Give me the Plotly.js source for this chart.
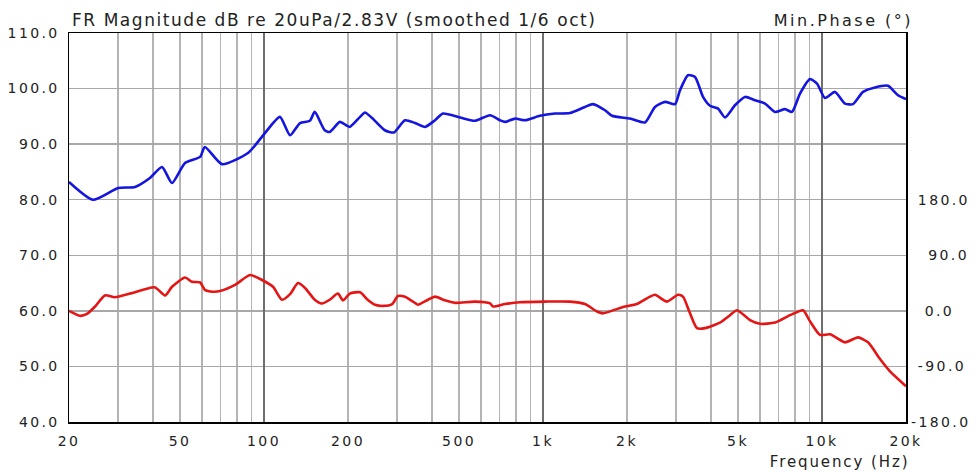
<!DOCTYPE html>
<html>
<head>
<meta charset="utf-8">
<script src="https://cdn.plot.ly/plotly-3.0.1.min.js"></script>
<style>
html,body{margin:0;padding:0;background:#fff;}
#chart{width:976px;height:472px;}
#chart .xtick text, #chart .ytick text, #chart .y2tick text{letter-spacing:2.4px;}
#chart text.gtitle{letter-spacing:1.55px;}
#chart g.annotation[data-index="0"] text{letter-spacing:2.5px;}
#chart g.annotation[data-index="1"] text{letter-spacing:1.9px;}
</style>
</head>
<body>
<div id="chart"></div>
<script>
// Magnitude (dB re 20uPa/2.83V), frequency in Hz
const magFreq = [20,24.4,30.0,34.5,39.0,43.1,46.8,52.1,59.0,61.4,70.7,87.6,100.8,114,124,134.6,146,152,165,172,187,197,203,221,230,244,271,292,320,348,378,410,438,504,570,646,701,731,794,862,975,1104,1249,1414,1510,1668,1767,2050,2320,2520,2737,2972,3097,3308,3506,3746,3968,4240,4491,4876,5296,5752,6247,6784,7368,7806,8339,9057,9596,10248,11131,12088,12913,14026,15488,17238,18722,20000];
const magDB = [83.2,80.0,82.1,82.3,83.9,85.9,83.0,86.6,87.7,89.5,86.4,88.4,92.0,94.9,91.6,93.8,94.2,95.8,92.5,92.2,94.0,93.4,93.1,94.9,95.7,94.7,92.5,92.1,94.3,93.8,93.1,94.3,95.5,94.8,94.2,95.2,94.3,94.0,94.6,94.3,95.1,95.5,95.6,96.7,97.2,96.1,95.1,94.6,93.9,96.7,97.6,97.2,99.7,102.4,102.1,98.5,96.9,96.4,94.8,97.0,98.5,97.9,97.3,95.8,96.3,95.8,99.1,101.7,100.9,98.3,99.4,97.3,97.2,99.4,100.2,100.5,98.8,98.1];

// Minimum phase (degrees)
const phaseFreq = [20,21.9,23.2,24.8,26.9,29.2,33.1,37.5,40.7,44.2,46.8,52.1,55.2,59.0,61.4,65.6,69.5,78.7,89.1,98.4,107.7,116,124,132.4,140.3,152,161,172,184,192,203,221,234,250,267,288,302,320,342,356,387,410,445,484,570,646,662,731,827,1016,1249,1414,1561,1641,1812,1967,2171,2418,2520,2782,3046,3175,3364,3564,3808,4309,4680,4959,5520,5994,6784,7679,8548,9057,9836,10683,12088,13460,14618,16140,17526,20000];
const phaseDeg = [0,-8,-5,7,25,22,28,35,38,25,39,54,47,46,34,31,32,42,58,50,39,18,27,45,37,18,12,18,28,17,28,30,19,10,8,11,24,23,15,10,18,23,17,13,15,12,7,11,14,15,15,11,-1,-4,2,7,11,23,26,15,26,23,-4,-28,-28,-19,-7,1,-15,-21,-19,-7,1,-17,-39,-38,-51,-43,-51,-78,-98,-122];

// Axis ticks
const xTickVals = [20,50,100,200,500,1000,2000,5000,10000,20000];
const xTickText = ['20','50','100','200','500','1k','2k','5k','10k','20k'];
const xMinorGrid = [30,40,50,60,70,80,90,200,300,400,500,600,700,800,900,2000,3000,4000,5000,6000,7000,8000,9000];
const xDecadeGrid = [100,1000,10000];
const magTicks = [40,50,60,70,80,90,100,110];
const phaseTicks = [-180,-90,0,90,180];
const phaseTickText = ['-180.0','\u00a0-90.0','\u00a0\u00a00.0','\u00a0\u2009\u200990.0','\u00a0180.0'];

const FONT = 'DejaVu Sans, Verdana, sans-serif';
const TXT = '#222';

const traces = [
  {x: magFreq, y: magDB, type:'scatter', mode:'lines', xaxis:'x', yaxis:'y',
   line:{color:'#1515e0', width:2.6, shape:'spline', smoothing:0.6}, hoverinfo:'skip'},
  {x: phaseFreq, y: phaseDeg, type:'scatter', mode:'lines', xaxis:'x', yaxis:'y2',
   line:{color:'#e41515', width:2.6, shape:'spline', smoothing:0.6}, hoverinfo:'skip'},
  {x:[20,20000], y:[null,null], xaxis:'x2', yaxis:'y', type:'scatter', mode:'lines', hoverinfo:'skip'}
];

const layout = {
  width:976, height:472,
  margin:{l:69, r:70, t:33, b:50},
  paper_bgcolor:'#fff', plot_bgcolor:'#fff',
  showlegend:false,
  font:{family:FONT, size:14, color:TXT},
  title:{text:'FR Magnitude dB re 20uPa/2.83V (smoothed 1/6 oct)', x:72/976, xanchor:'left',
         xref:'container', yref:'container', y:1-20/472, yanchor:'middle',
         font:{family:FONT, size:17, color:TXT}},
  xaxis:{type:'log', range:[Math.log10(20), Math.log10(20000)],
         tickmode:'array', tickvals:xTickVals, ticktext:xTickText,
         showgrid:false, zeroline:false, ticks:'',
         showline:true, linecolor:'#000', linewidth:1.5, mirror:true,
         tickfont:{family:FONT, size:14, color:TXT}, ticklabelstandoff:6,
         minor:{tickmode:'array', tickvals:xMinorGrid, showgrid:true, gridcolor:'#b4b4b4', gridwidth:1.3, ticks:''}},
  xaxis2:{type:'log', range:[Math.log10(20), Math.log10(20000)], overlaying:'x',
          tickmode:'array', tickvals:xDecadeGrid, showticklabels:false,
          showgrid:true, gridcolor:'#6e6e6e', gridwidth:1.7, zeroline:false, ticks:'', showline:false},
  yaxis:{range:[40,110], tickmode:'array', tickvals:magTicks, tickformat:'.1f',
         showgrid:true, gridcolor:'#a8a8a8', gridwidth:1.3, zeroline:false, ticks:'',
         showline:true, linecolor:'#000', linewidth:1.5, mirror:true,
         tickfont:{family:FONT, size:14, color:TXT}, ticklabelstandoff:5},
  yaxis2:{range:[-180,450], overlaying:'y', side:'right', tickmode:'array', tickvals:phaseTicks,
          ticktext:phaseTickText, showgrid:false, zeroline:false, ticks:'', showline:false,
          tickfont:{family:FONT, size:14, color:TXT}, ticklabelstandoff:4},
  annotations:[
    {text:'Min.Phase (°)', xref:'paper', yref:'paper', x:1, xanchor:'right', xshift:-7, y:1+13/389, yanchor:'middle',
     showarrow:false, font:{family:FONT, size:16, color:TXT}},
    {text:'Frequency (Hz)', xref:'paper', yref:'paper', x:1, xanchor:'right', xshift:-8, y:-40/389, yanchor:'middle',
     showarrow:false, font:{family:FONT, size:15, color:TXT}}
  ]
};

Plotly.newPlot('chart', traces, layout, {staticPlot:true, displayModeBar:false});
</script>
</body>
</html>
